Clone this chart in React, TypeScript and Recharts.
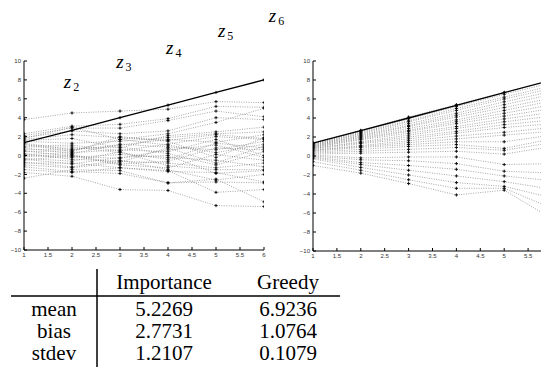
import { LineChart, Line, XAxis, YAxis, ReferenceDot } from "recharts";

const steps = [1, 2, 3, 4, 5, 6];
const xTicks = [1, 1.5, 2, 2.5, 3, 3.5, 4, 4.5, 5, 5.5, 6];
// the right panel is cut at the page edge, its "6" label is not visible
const xTicksRight = [1, 1.5, 2, 2.5, 3, 3.5, 4, 4.5, 5, 5.5];
const yTicks = [-10, -8, -6, -4, -2, 0, 2, 4, 6, 8, 10];

// the true trajectory, bold line in both panels
const truth = [1.35, 2.67, 4.0, 5.33, 6.67, 8.0];

// left panel: importance sampling particles
const importancePaths = [
  [3.8, 4.5, 4.7, 4.9, 5.7, 5.6],
  [2.3, 3.1, 3.3, 3.9, 5.2, 5.1],
  [2.1, 2.9, 2.9, 3.7, 4.7, 4.1],
  [1.9, 2.6, 2.3, 2.6, 4.0, 3.8],
  [1.8, 3.0, 1.7, 2.3, 3.5, 5.0],
  [1.6, 1.8, 0.8, 2.1, 2.5, 3.0],
  [1.5, 1.3, 1.5, 1.9, 2.3, 2.5],
  [1.3, 0.6, 1.1, 1.7, 1.4, 2.2],
  [1.2, 0.4, 2.0, 1.5, -0.2, 1.9],
  [1.0, 1.1, 0.5, 1.2, 2.0, 1.7],
  [0.9, 0.9, 0.3, -0.4, 1.3, 0.8],
  [0.8, 0.2, 1.2, 0.9, 0.6, 1.5],
  [0.6, 0.7, 0.9, 0.2, -1.0, 0.4],
  [0.5, -0.1, -0.3, 0.6, 1.1, -0.2],
  [0.4, 0.5, 1.7, 1.1, 0.3, 1.2],
  [0.2, -0.4, -0.6, -0.8, -1.3, -0.8],
  [0.1, 0.3, 0.6, 0.4, 1.7, 0.0],
  [0.0, -0.2, 0.1, -0.2, -0.5, -1.2],
  [-0.1, 0.1, -0.9, -0.6, 0.8, 0.6],
  [-0.3, -0.6, 0.4, -1.1, -1.5, -1.5],
  [-0.4, -0.9, -0.2, 0.0, -1.9, -1.6],
  [-0.5, 0.0, -1.0, -1.3, 0.1, -0.5],
  [-0.7, -1.2, -0.5, -1.5, -2.6, -2.0],
  [-0.8, -0.8, -1.3, -1.7, -1.8, -2.8],
  [-1.0, -1.3, -0.7, 0.8, -0.8, 1.0],
  [-1.2, -1.7, -1.9, -2.9, -2.8, -2.9],
  [-1.5, -1.8, -1.3, -1.6, -3.9, -3.6],
  [-1.8, -2.2, -3.6, -3.7, -5.3, -5.4],
  [-2.4, -1.5, -1.6, -2.9, -2.5, -4.9],
  [1.7, 2.2, 1.9, 1.6, 2.2, 1.8],
];

// right panel: greedy paths
const greedyPaths = [
  [1.4, 2.7, 4.1, 5.4, 6.7, 7.9],
  [1.3, 2.6, 3.9, 5.2, 6.5, 7.7],
  [1.3, 2.5, 3.7, 5.0, 6.2, 7.4],
  [1.2, 2.4, 3.6, 4.8, 6.0, 7.1],
  [1.2, 2.3, 3.4, 4.5, 5.7, 6.8],
  [1.1, 2.2, 3.2, 4.3, 5.4, 6.5],
  [1.1, 2.1, 3.1, 4.1, 5.1, 6.1],
  [1.0, 2.0, 2.9, 3.8, 4.8, 5.8],
  [1.0, 1.9, 2.7, 3.6, 4.5, 5.4],
  [0.9, 1.8, 2.6, 3.4, 4.2, 5.0],
  [0.9, 1.7, 2.4, 3.1, 3.9, 4.6],
  [0.8, 1.5, 2.2, 2.9, 3.6, 4.2],
  [0.8, 1.4, 2.0, 2.6, 3.3, 3.8],
  [0.7, 1.3, 1.8, 2.4, 3.0, 3.4],
  [0.6, 1.1, 1.6, 2.1, 2.5, 3.0],
  [0.6, 1.0, 1.4, 1.8, 2.2, 2.6],
  [0.5, 0.9, 1.2, 1.5, 1.5, 2.2],
  [0.4, 0.7, 1.0, 1.2, 0.8, 1.8],
  [0.3, 0.5, 0.7, 0.9, 0.6, 1.4],
  [0.2, 0.3, 0.4, 0.5, 0.2, 1.0],
  [0.1, -0.2, -0.1, -0.1, -0.9, -0.8],
  [0.0, -0.4, -0.5, -0.8, -1.6, -1.8],
  [-0.1, -0.7, -1.0, -1.4, -2.1, -2.6],
  [-0.2, -0.9, -1.5, -2.1, -2.7, -3.5],
  [-0.3, -1.2, -2.0, -2.8, -3.2, -4.4],
  [-0.6, -1.5, -2.5, -3.4, -3.4, -5.5],
  [-1.0, -1.8, -2.9, -4.1, -3.6, -6.6],
];

// z_t labels over the left panel
const zNames = ["2", "3", "4", "5", "6"];
const zLabelX = [1.83, 2.92, 3.96, 5.04, 6.1];
const zLabelY = [7.7, 9.8, 11.3, 13.1, 14.7];

const rowNames = ["mean", "bias", "stdev"];
const importanceStats = ["5.2269", "2.7731", "1.2107"];
const greedyStats = ["6.9236", "1.0764", "0.1079"];

const buildRows = (paths: number[][]) =>
  steps.map((x, i) => {
    const row: any = { x, truth: truth[i] };
    paths.forEach((p, j) => {
      row["p" + j] = p[i];
    });
    return row;
  });

const plus = (props: any) => {
  const { cx, cy, index, dataKey } = props;
  if (cx == null || cy == null) return <g key={`${dataKey}-${index}`} />;
  return (
    <path
      key={`${dataKey}-${index}`}
      d={`M${cx - 1.6},${cy}h3.2M${cx},${cy - 1.6}v3.2`}
      stroke="#000"
      strokeWidth={0.9}
      fill="none"
    />
  );
};

const tickFmt = (v: number) => String(v).replace("-", "\u2212");
const tickStyle = { fontSize: 6, fill: "#333", fontFamily: "Liberation Sans" };

const zContent = (props: any) => {
  const { viewBox, value } = props;
  return (
    <text
      x={viewBox.x}
      y={viewBox.y + 5}
      fontFamily="Liberation Serif"
      fontStyle="italic"
      fontSize={19}
      fill="#000"
    >
      z
      <tspan fontStyle="normal" fontSize={12} dx={2} dy={3}>
        {value}
      </tspan>
    </text>
  );
};

const Panel = ({
  paths,
  margin,
  ticks,
  withLabels,
}: {
  paths: number[][];
  margin: any;
  ticks: number[];
  withLabels?: boolean;
}) => {
  const data = buildRows(paths);
  return (
    <LineChart width={290} height={270} data={data} margin={margin}>
      <XAxis
        dataKey="x"
        type="number"
        domain={[1, 6]}
        ticks={ticks}
        height={1}
        tickSize={-3}
        tickMargin={6}
        tick={tickStyle}
        stroke="#000"
        tickLine={{ stroke: "#000" }}
        axisLine={{ stroke: "#000" }}
        interval={0}
        allowDataOverflow
      />
      <YAxis
        type="number"
        domain={[-10, 10]}
        ticks={yTicks}
        width={1}
        tickSize={-3}
        tickMargin={6}
        tick={tickStyle}
        tickFormatter={tickFmt}
        stroke="#000"
        tickLine={{ stroke: "#000" }}
        axisLine={{ stroke: "#000" }}
        interval={0}
        allowDataOverflow
      />
      {paths.map((_, j) => (
        <Line
          key={"p" + j}
          dataKey={"p" + j}
          type="linear"
          stroke="#808080"
          strokeWidth={0.7}
          strokeDasharray="1 1.4"
          dot={plus}
          activeDot={false}
          isAnimationActive={false}
        />
      ))}
      <Line
        dataKey="truth"
        type="linear"
        stroke="#000"
        strokeWidth={1.3}
        dot={plus}
        activeDot={false}
        isAnimationActive={false}
      />
      {withLabels &&
        zNames.map((n, i) => (
          <ReferenceDot
            key={"z" + n}
            x={zLabelX[i]}
            y={zLabelY[i]}
            r={0}
            ifOverflow="visible"
            stroke="none"
            fill="none"
            label={{ value: n, content: zContent }}
          />
        ))}
    </LineChart>
  );
};

export default function App() {
  return (
    <div
      style={{
        position: "relative",
        margin: -8,
        width: 549,
        height: 375,
        overflow: "hidden",
        background: "#fff",
      }}
    >
      <div style={{ position: "absolute", left: 0, top: 0 }}>
        <Panel
          paths={importancePaths}
          margin={{ top: 61, right: 26, bottom: 19, left: 23 }}
          ticks={xTicks}
          withLabels
        />
      </div>
      <div style={{ position: "absolute", left: 290, top: 0 }}>
        <Panel
          paths={greedyPaths}
          margin={{ top: 61, right: 28, bottom: 18, left: 22 }}
          ticks={xTicksRight}
        />
      </div>
      <svg
        width={549}
        height={113}
        style={{ position: "absolute", left: 0, top: 262 }}
        fontFamily="Liberation Serif"
        fontSize={21}
      >
        <line x1={11} x2={340} y1={34} y2={34} stroke="#000" strokeWidth={1.5} />
        <line x1={97} x2={97} y1={7} y2={112} stroke="#000" strokeWidth={1.5} />
        <text x={164} y={27} textAnchor="middle">
          Importance
        </text>
        <text x={288} y={27} textAnchor="middle">
          Greedy
        </text>
        {rowNames.map((r, i) => (
          <g key={r}>
            <text x={54} y={54 + i * 22} textAnchor="middle">
              {r}
            </text>
            <text x={164} y={54 + i * 22} textAnchor="middle">
              {importanceStats[i]}
            </text>
            <text x={288} y={54 + i * 22} textAnchor="middle">
              {greedyStats[i]}
            </text>
          </g>
        ))}
      </svg>
    </div>
  );
}
